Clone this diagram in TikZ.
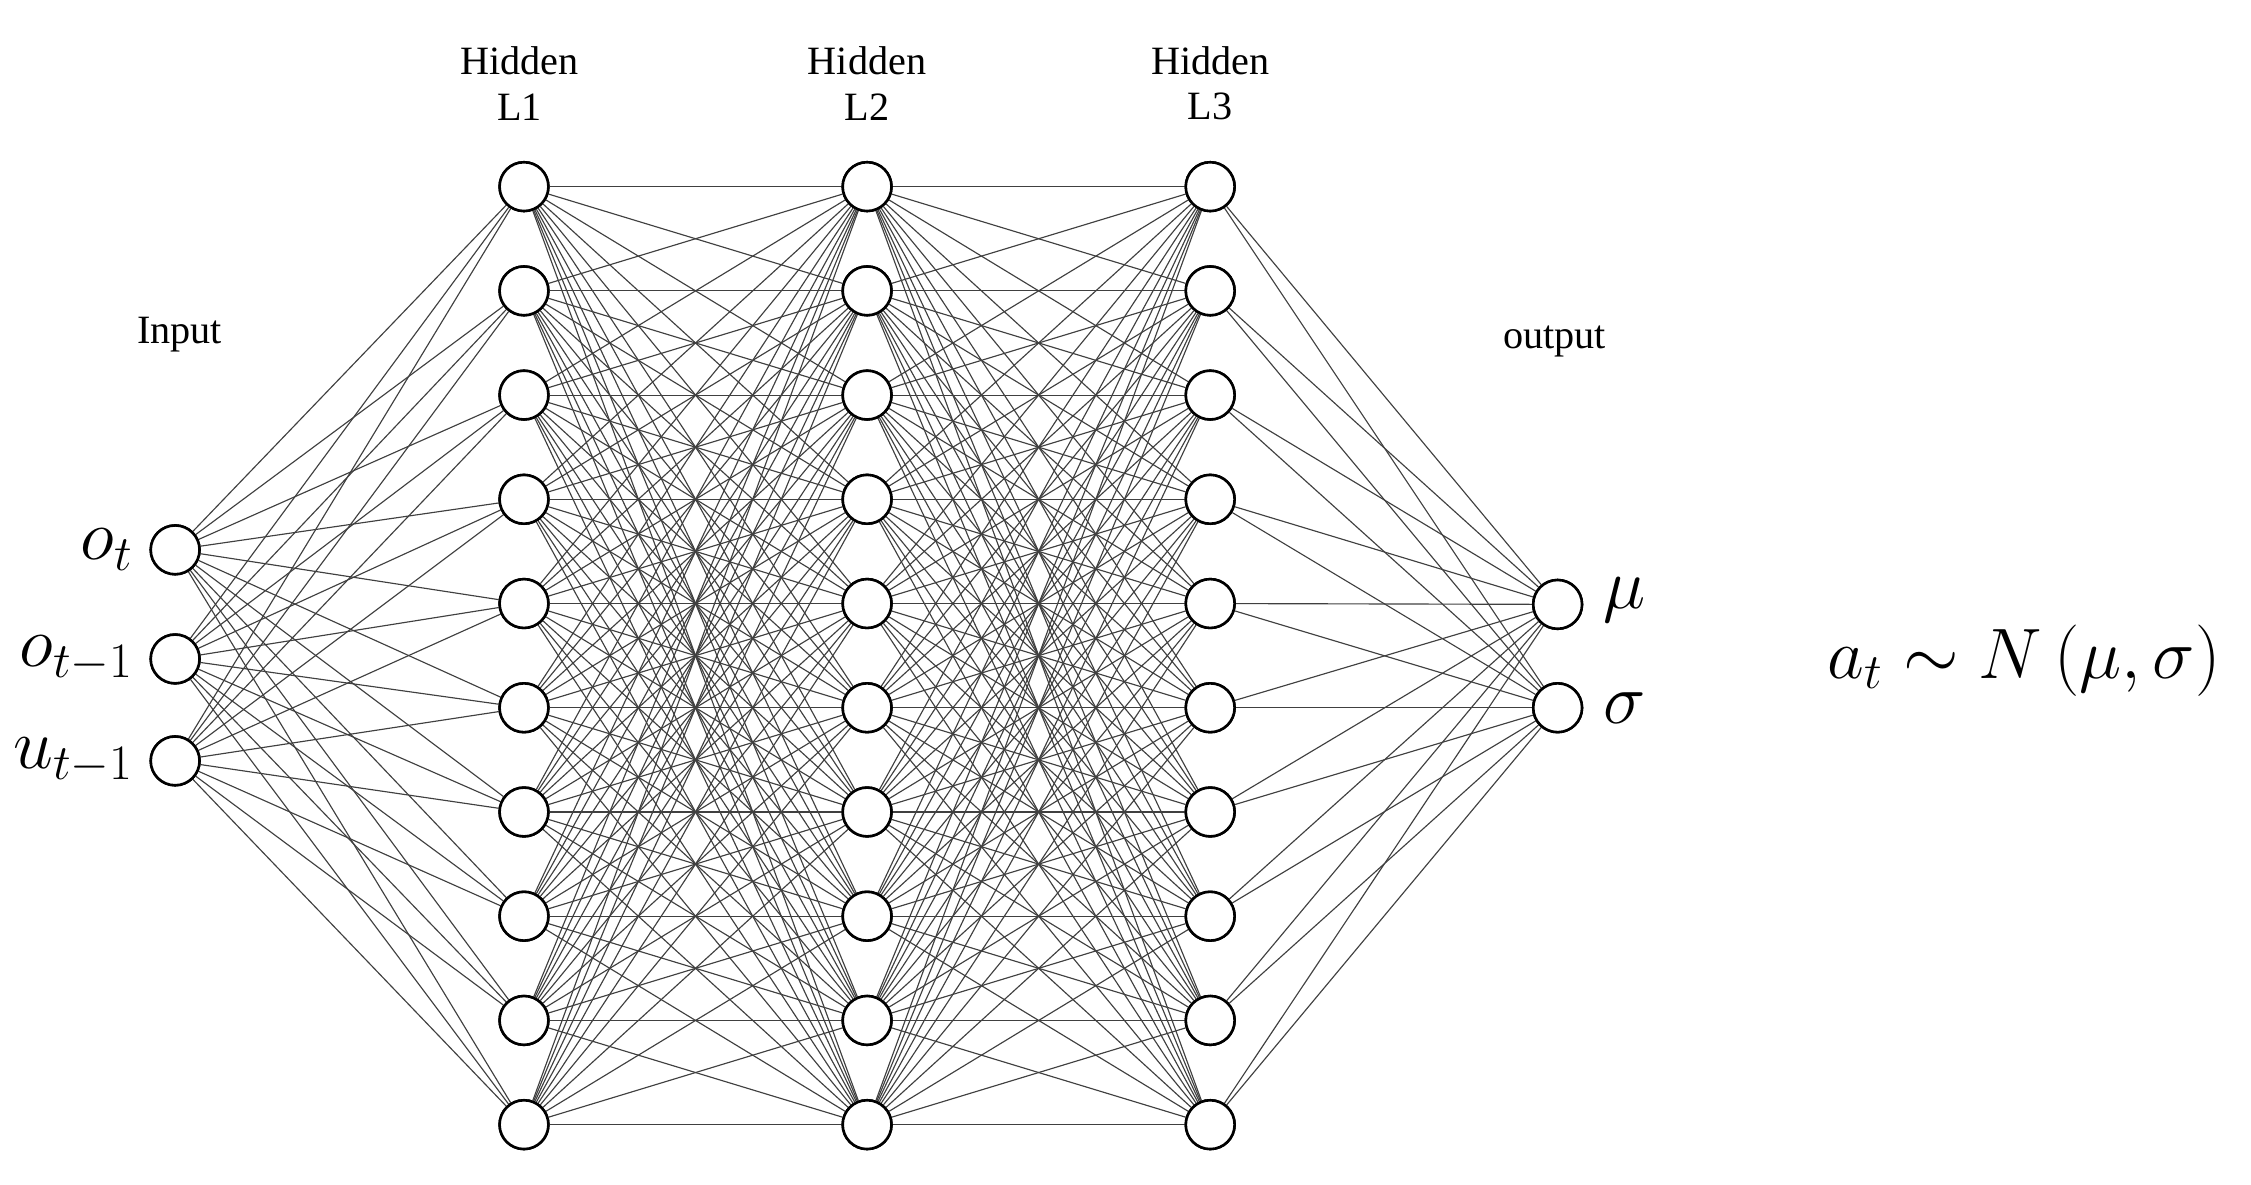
\documentclass[tikz,border=0pt]{standalone}
\usepackage{fontspec}
\setmainfont{Liberation Serif}
\begin{document}
\begin{tikzpicture}[x=0.5pt,y=-0.5pt,
  neu/.style={circle,draw,line width=0.9pt,fill=white,minimum size=17pt,inner sep=0pt},
  con/.style={line width=0.4pt,draw=black!75},
  lab/.style={font=\fontsize{14}{16}\selectfont,align=center},
  ml/.style={font=\fontsize{26}{28}\selectfont}]
\useasboundingbox (0,0) rectangle (1568,825);
\foreach \i/\y in {1/383,2/459,3/530} \node[neu] (i\i) at (122,\y) {};
\foreach \k/\x in {1/365,2/604,3/843}
  \foreach \j in {1,...,10} \node[neu] (h\k\j) at (\x,{130+(\j-1)*72.6}) {};
\node[neu] (o1) at (1085,421) {};
\node[neu] (o2) at (1085,493) {};
\begin{scope}[on background layer/.try]
\end{scope}
\foreach \i in {1,2,3} \foreach \j in {1,...,10} \draw[con] (i\i) -- (h1\j);
\foreach \a/\b in {1/2,2/3} \foreach \i in {1,...,10} \foreach \j in {1,...,10} \draw[con] (h\a\i) -- (h\b\j);
\foreach \j in {1,...,10} \foreach \o in {1,2} \draw[con] (h3\j) -- (o\o);
% redraw nodes on top
\foreach \i/\y in {1/383,2/459,3/530} \node[neu] at (122,\y) {};
\foreach \k/\x in {1/365,2/604,3/843}
  \foreach \j in {1,...,10} \node[neu] at (\x,{130+(\j-1)*72.6}) {};
\node[neu] at (1085,421) {};
\node[neu] at (1085,493) {};
\node[lab] (t1) at (362,58) {Hidden\\L1};
\node[lab] (t2) at (604,58) {Hidden\\L2};
\node[lab] (t3) at (843,58) {Hidden\\L3};
\node[lab] (tin) at (125,233) {Input};
\node[lab] (tout) at (1083,238) {output};
\node[ml,anchor=east] (lo1) at (100,383) {$o_t$};
\node[ml,anchor=east] (lo2) at (100,459) {$o_{t-1}$};
\node[ml,anchor=east] (lo3) at (100,530) {$u_{t-1}$};
\node[ml,anchor=west] (lmu) at (1110,418) {$\mu$};
\node[ml,anchor=west] (lsig) at (1110,493) {$\sigma$};
\node[ml] (form) at (1410,460) {$a_t \sim N\left(\mu,\sigma\right)$};
\end{tikzpicture}
\end{document}
